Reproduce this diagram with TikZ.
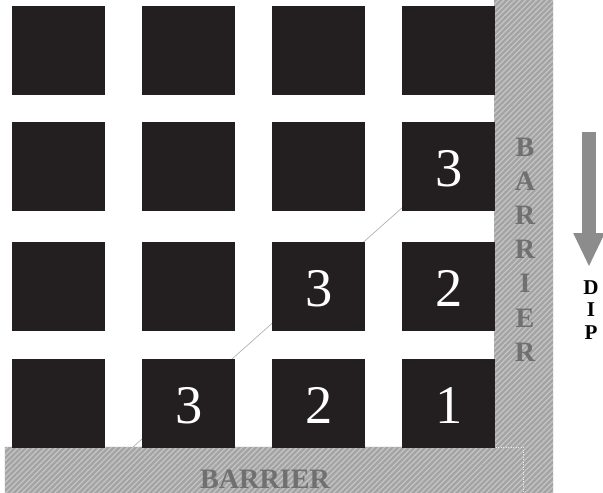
\documentclass[tikz,border=0pt]{standalone}
\usepackage{fontspec}
\setmainfont{Liberation Serif}
\usetikzlibrary{arrows.meta,patterns.meta}
\definecolor{pillarblack}{HTML}{231F20}
\definecolor{wallgray}{HTML}{A4A4A4}
\definecolor{wallline}{HTML}{C6C6C6}
\definecolor{lettergray}{HTML}{707070}
\definecolor{dipgray}{HTML}{8C8C8C}
\begin{document}
\begin{tikzpicture}[x=0.02cm, y=-0.02cm, >=Stealth,
  pillar/.style={fill=pillarblack, minimum width=1.86cm, minimum height=1.77cm, inner sep=0pt, anchor=north west},
  num/.style={text=white, inner sep=0pt, font=\fontsize{31}{31}\selectfont},
  wallmark/.style={text=lettergray, inner sep=0pt, font=\bfseries\fontsize{16}{16}\selectfont}]
  \useasboundingbox (0,0) rectangle (603,493);
  % barrier
  \fill[wallgray] (494,0) -- (553,0) -- (553,493) -- (5,493) -- (5,447) -- (494,447) -- cycle;
  \fill[pattern={Lines[angle=45, distance=2.2pt, line width=0.7pt]}, pattern color=wallline] (494,0) -- (553,0) -- (553,493) -- (5,493) -- (5,447) -- (494,447) -- cycle;
  \draw[densely dotted, white!85!gray] (496,447) -- (523,447) -- (523,493);
  % line behind the pillars
  \coordinate (lineLow) at (133,447);
  \coordinate (lineHigh) at (412,199);
  \draw[gray!60, line width=0.4pt] (lineLow) -- (lineHigh);
  % pillars
  \foreach \r/\y in {1/6,2/122,3/242,4/359}
    \foreach \c/\x in {1/12,2/142,3/272,4/402}
      \node[pillar] (p\r\c) at (\x,\y) {};
  \foreach \r/\c/\n in {2/4/3,3/3/3,3/4/2,4/2/3,4/3/2,4/4/1}
    \node[num] (n\r\c) at ([yshift=-0.04cm]p\r\c.center) {\n};
  % barrier labels
  \foreach \ch [count=\i from 0] in {B,A,R,R,I,E,R}
    \node[wallmark] (v\i) at (525,{147+34.2*\i}) {\ch};
  \node[wallmark] (hb) at (265,479) {BARRIER};
  % dip
  \node[inner sep=0pt, align=center, font=\bfseries\fontsize{12}{13}\selectfont] (dip) at (591,310) {D\\I\\P};
  \coordinate (dipTop) at (589,132);
  \coordinate (dipTip) at (589,267);
  \draw[dipgray, line width=8.5pt, -{Triangle[width=16.4pt,length=19.3pt]}] (dipTop) -- (dipTip);
\end{tikzpicture}
\end{document}
